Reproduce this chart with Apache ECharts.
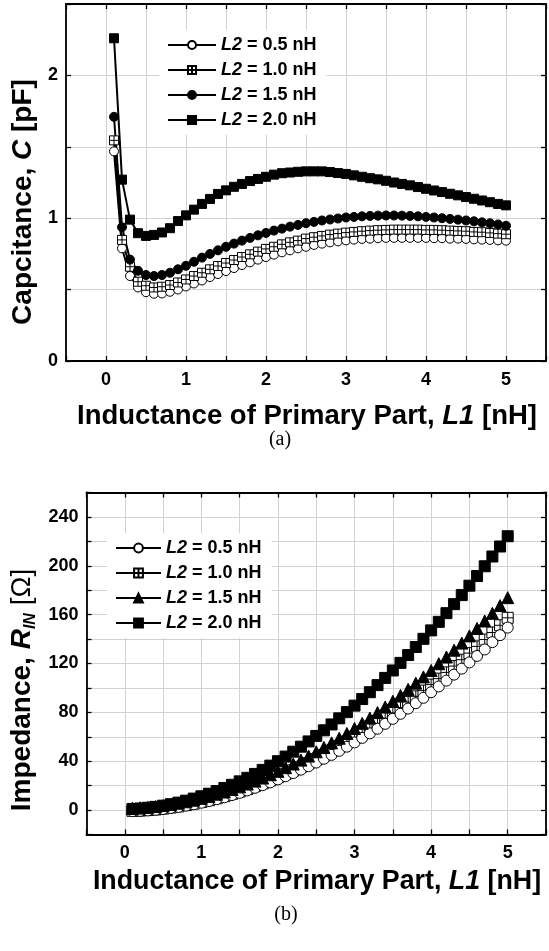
<!DOCTYPE html>
<html>
<head>
<meta charset="utf-8">
<script src="https://cdn.jsdelivr.net/npm/echarts@6/dist/echarts.min.js"></script>
<style>
  html, body { margin: 0; padding: 0; background: #fff; }
  #main { width: 549px; height: 951px; }
</style>
</head>
<body>
<div id="main"></div>
<script>
// L1 sweep (nH), shared by both panels
var xL1 = [0.1, 0.2, 0.3, 0.4, 0.5, 0.6, 0.7, 0.8, 0.9, 1.0,
           1.1, 1.2, 1.3, 1.4, 1.5, 1.6, 1.7, 1.8, 1.9, 2.0,
           2.1, 2.2, 2.3, 2.4, 2.5, 2.6, 2.7, 2.8, 2.9, 3.0,
           3.1, 3.2, 3.3, 3.4, 3.5, 3.6, 3.7, 3.8, 3.9, 4.0,
           4.1, 4.2, 4.3, 4.4, 4.5, 4.6, 4.7, 4.8, 4.9, 5.0];

var legendNames = ['L2 = 0.5 nH', 'L2 = 1.0 nH', 'L2 = 1.5 nH', 'L2 = 2.0 nH'];

// (a) capacitance C [pF]
var cap05 = [1.468, 0.789, 0.595, 0.515, 0.482, 0.471, 0.473, 0.485, 0.501, 0.522,
             0.543, 0.564, 0.588, 0.609, 0.630, 0.651, 0.672, 0.691, 0.710, 0.728,
             0.745, 0.761, 0.775, 0.789, 0.800, 0.813, 0.822, 0.831, 0.838, 0.845,
             0.850, 0.855, 0.857, 0.860, 0.862, 0.862, 0.862, 0.862, 0.862, 0.862,
             0.860, 0.860, 0.857, 0.857, 0.855, 0.852, 0.850, 0.848, 0.845, 0.843];
var cap10 = [1.545, 0.848, 0.660, 0.555, 0.527, 0.515, 0.520, 0.532, 0.550, 0.571,
             0.595, 0.618, 0.642, 0.665, 0.686, 0.707, 0.728, 0.747, 0.766, 0.785,
             0.800, 0.817, 0.831, 0.843, 0.857, 0.867, 0.876, 0.885, 0.892, 0.899,
             0.904, 0.909, 0.913, 0.916, 0.918, 0.920, 0.920, 0.920, 0.920, 0.918,
             0.918, 0.916, 0.913, 0.911, 0.909, 0.904, 0.902, 0.897, 0.892, 0.888];
var cap15 = [1.710, 0.937, 0.710, 0.632, 0.602, 0.595, 0.602, 0.618, 0.642, 0.667,
             0.695, 0.724, 0.750, 0.775, 0.800, 0.822, 0.843, 0.862, 0.880, 0.897,
             0.913, 0.927, 0.941, 0.953, 0.965, 0.974, 0.984, 0.991, 0.998, 1.005,
             1.009, 1.013, 1.016, 1.018, 1.019, 1.019, 1.018, 1.016, 1.013, 1.009,
             1.005, 1.000, 0.995, 0.990, 0.984, 0.978, 0.971, 0.964, 0.956, 0.947];
var cap20 = [2.260, 1.270, 0.990, 0.895, 0.876, 0.883, 0.900, 0.930, 0.980, 1.020,
             1.060, 1.100, 1.135, 1.170, 1.195, 1.220, 1.240, 1.260, 1.275, 1.290,
             1.305, 1.315, 1.320, 1.325, 1.328, 1.328, 1.328, 1.323, 1.316, 1.310,
             1.300, 1.290, 1.280, 1.272, 1.262, 1.250, 1.240, 1.230, 1.218, 1.206,
             1.194, 1.183, 1.171, 1.160, 1.148, 1.136, 1.124, 1.112, 1.100, 1.090];

// (b) impedance R_IN [ohm]
var rin05 = [-0.9, -0.7, -0.3, 0.2, 0.9, 1.7, 2.6, 3.6, 4.7, 6.0,
             7.4, 8.9, 10.5, 12.3, 14.1, 16.1, 18.2, 20.4, 22.7, 25.1,
             27.7, 30.3, 33.1, 35.9, 38.9, 42.0, 45.2, 48.5, 51.9, 55.4,
             59.1, 62.8, 66.6, 70.6, 74.7, 78.8, 83.1, 87.5, 91.9, 96.5,
             101.2, 106.0, 110.9, 115.8, 120.9, 126.2, 131.5, 137.5, 143.2, 149.4];
var rin10 = [-0.6, -0.4, 0.0, 0.5, 1.2, 2.1, 3.0, 4.1, 5.3, 6.7,
             8.1, 9.7, 11.4, 13.3, 15.2, 17.3, 19.6, 21.9, 24.4, 27.0,
             29.7, 32.5, 35.4, 38.4, 41.5, 44.8, 48.2, 51.7, 55.3, 59.0,
             62.9, 66.9, 71.0, 75.2, 79.5, 83.9, 88.4, 93.1, 97.8, 102.7,
             107.6, 112.7, 117.9, 123.1, 128.5, 134.0, 139.6, 145.4, 151.3, 157.4];
var rin15 = [1.6, 1.9, 2.3, 2.9, 3.7, 4.6, 5.6, 6.8, 8.1, 9.6,
             11.2, 13.0, 14.8, 16.9, 19.0, 21.3, 23.7, 26.2, 28.9, 31.7,
             34.7, 37.7, 40.9, 44.2, 47.7, 51.3, 55.0, 58.8, 62.7, 66.8,
             71.0, 75.3, 79.8, 84.4, 89.1, 93.9, 98.8, 103.9, 109.0, 114.3,
             119.8, 125.3, 130.9, 136.7, 142.6, 148.7, 154.8, 161.1, 167.4, 173.9];
var rin20 = [0.9, 1.3, 1.9, 2.6, 3.6, 4.8, 6.1, 7.7, 9.4, 11.3,
             13.4, 15.6, 18.1, 20.7, 23.5, 26.4, 29.6, 32.9, 36.4, 40.0,
             43.8, 47.8, 51.9, 56.2, 60.7, 65.3, 70.1, 75.1, 80.2, 85.5,
             90.9, 96.5, 102.3, 108.2, 114.3, 120.5, 126.9, 133.5, 140.2, 147.1,
             154.1, 161.2, 168.6, 176.0, 183.7, 191.6, 199.6, 207.6, 215.8, 224.2];

var FONT = "'Liberation Sans', Arial, sans-serif";
var SERIF = "'Liberation Serif', 'Times New Roman', serif";
var boxSym = 'path://M0,0H10V10H0Z M5,0V10 M0,5H10';

var chart = echarts.init(document.getElementById('main'));

function xAx(grid, pos) {
  var main = pos === 'bottom';
  return {
    type: 'value', gridIndex: grid, position: pos,
    min: -0.5, max: 5.5, interval: 0.5,
    axisLine: { show: true, onZero: false, lineStyle: { color: '#000', width: 1.8 } },
    axisTick: { show: true, inside: true, length: 5, lineStyle: { color: '#000', width: 1.3 } },
    axisLabel: {
      show: main, margin: 10, color: '#000', fontFamily: FONT, fontWeight: 'bold', fontSize: 18,
      formatter: function (v) { return Number.isInteger(v) && v >= 0 && v <= 5 ? String(v) : ''; }
    },
    splitLine: { show: main, lineStyle: { color: '#d2d2d2', width: 1 } }
  };
}

function yAx(grid, pos, min, max, step, labelStep) {
  var main = pos === 'left';
  return {
    type: 'value', gridIndex: grid, position: pos,
    min: min, max: max, interval: step,
    axisLine: { show: true, onZero: false, lineStyle: { color: '#000', width: 1.8 } },
    axisTick: { show: true, inside: true, length: 5, lineStyle: { color: '#000', width: 1.3 } },
    axisLabel: {
      show: main, margin: 8, color: '#000', fontFamily: FONT, fontWeight: 'bold', fontSize: 18,
      formatter: function (v) {
        var r = Math.round(v * 1000) / 1000;
        return (r >= 0 && r < max && Math.abs(r / labelStep - Math.round(r / labelStep)) < 1e-6) ? String(r) : '';
      }
    },
    splitLine: { show: main, lineStyle: { color: '#d2d2d2', width: 1 } }
  };
}

function line(name, ax, vals, symbol, fill, size) {
  return {
    type: 'line', name: name,
    xAxisIndex: ax.x, yAxisIndex: ax.y,
    data: xL1.map(function (x, i) { return [x, vals[i]]; }),
    symbol: symbol, symbolSize: size, showAllSymbol: true,
    lineStyle: { color: '#000', width: 2 },
    itemStyle: { color: fill, borderColor: '#000', borderWidth: 1 },
    emphasis: { disabled: true }
  };
}

var A = { x: 0, y: 0 }, B = { x: 2, y: 2 };
var tagA = ' (a)', tagB = ' (b)';

function legendFor(names, left, top, itemW, itemH, gap) {
  return {
    data: names, orient: 'vertical', left: left, top: top,
    itemWidth: itemW, itemHeight: itemH, itemGap: gap,
    padding: [6, 10, 6, 8], backgroundColor: '#fff',
    selectedMode: false,
    formatter: function (n) { return '{i|L2}{t|' + n.slice(2, n.length - 4) + '}'; },
    textStyle: {
      color: '#000', fontFamily: FONT, fontWeight: 'bold', fontSize: 18,
      rich: {
        i: { fontFamily: FONT, fontWeight: 'bold', fontStyle: 'italic', fontSize: 18, color: '#000' },
        t: { fontFamily: FONT, fontWeight: 'bold', fontSize: 18, color: '#000' }
      }
    }
  };
}

var namesA = legendNames.map(function (n) { return n + tagA; });
var namesB = legendNames.map(function (n) { return n + tagB; });

function titleRich(size) {
  return {
    b: { fontFamily: FONT, fontWeight: 'bold', fontSize: size, color: '#000' },
    bi: { fontFamily: FONT, fontWeight: 'bold', fontStyle: 'italic', fontSize: size, color: '#000' }
  };
}
var yRich = {
  b: { fontFamily: FONT, fontWeight: 'bold', fontSize: 28, color: '#000', lineHeight: 34 },
  bi: { fontFamily: FONT, fontWeight: 'bold', fontStyle: 'italic', fontSize: 28, color: '#000', lineHeight: 34 },
  sub: { fontFamily: FONT, fontWeight: 'bold', fontStyle: 'italic', fontSize: 16, color: '#000', lineHeight: 34, verticalAlign: 'bottom' },
  n: { fontFamily: FONT, fontWeight: 'normal', fontSize: 28, color: '#000', lineHeight: 34 }
};

function label(x, y, text, rich, rot, font) {
  return {
    type: 'text', x: x, y: y, rotation: rot || 0, silent: true,
    style: {
      text: text, rich: rich, font: font,
      align: 'center', verticalAlign: 'middle',
      textAlign: 'center', textVerticalAlign: 'middle', fill: '#000'
    }
  };
}

var option = {
  animation: false,
  backgroundColor: '#fff',
  grid: [
    { left: 66, top: 4, width: 484, height: 357 },
    { left: 86.5, top: 492.5, width: 465.6, height: 342 }
  ],
  xAxis: [xAx(0, 'bottom'), xAx(0, 'top'), xAx(1, 'bottom'), xAx(1, 'top')],
  yAxis: [
    yAx(0, 'left', 0, 2.5, 0.5, 1), yAx(0, 'right', 0, 2.5, 0.5, 1),
    yAx(1, 'left', -20, 260, 20, 40), yAx(1, 'right', -20, 260, 20, 40)
  ],
  legend: [
    legendFor(namesA, 159, 30, 48, 10, 7),
    legendFor(namesB, 107, 533, 45, 11, 7)
  ],
  series: [
    line(namesA[0], A, cap05, 'circle', '#fff', 9),
    line(namesA[1], A, cap10, boxSym, '#fff', 9),
    line(namesA[2], A, cap15, 'circle', '#000', 9),
    line(namesA[3], A, cap20, 'rect', '#000', 9),
    line(namesB[1], B, rin10, boxSym, '#fff', 11),
    line(namesB[0], B, rin05, 'circle', '#fff', 11),
    line(namesB[2], B, rin15, 'triangle', '#000', 12),
    line(namesB[3], B, rin20, 'rect', '#000', 11)
  ],
  graphic: [
    label(23, 202, '{b|Capcitance, }{bi|C}{b| [pF]}', yRich, Math.PI / 2),
    label(307, 416, '{b|Inductance of Primary Part, }{bi|L1}{b| [nH]}', titleRich(27.5)),
    label(280, 440, '(a)', null, 0, '20px ' + SERIF),
    label(22, 690, '{b|Impedance, }{bi|R}{sub|IN}{n| [\u03A9]}', yRich, Math.PI / 2),
    label(317, 882, '{b|Inductance of Primary Part, }{bi|L1}{b| [nH]}', titleRich(26.8)),
    label(286, 915, '(b)', null, 0, '20px ' + SERIF)
  ]
};

chart.setOption(option);
</script>
</body>
</html>
